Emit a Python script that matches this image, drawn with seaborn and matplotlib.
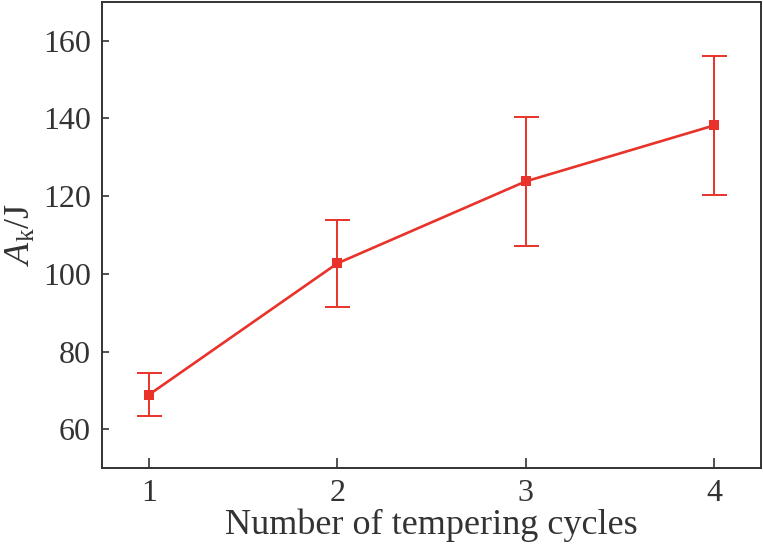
import matplotlib
matplotlib.use("Agg")
import matplotlib.pyplot as plt
import seaborn as sns
import pandas as pd

# values
cycles = [1, 2, 3, 4]
ak_mean = [68.9, 102.7, 123.8, 138.2]
ak_err = [5.6, 11.2, 16.6, 18.0]

RED = "#e8322a"
df = pd.DataFrame({"cycles": cycles, "ak": ak_mean, "err": ak_err})

sns.set_style("ticks")
plt.rcParams["font.family"] = ["Liberation Serif", "DejaVu Serif"]
plt.rcParams["mathtext.fontset"] = "custom"
plt.rcParams["mathtext.rm"] = "Liberation Serif"
plt.rcParams["mathtext.it"] = "Liberation Serif:italic"

fig = plt.figure(figsize=(7.63, 5.47), dpi=100)
ax = fig.add_axes([0.1337, 0.1444, 0.8637, 0.852])

ax.errorbar(df["cycles"], df["ak"], yerr=df["err"], fmt="none",
            ecolor=RED, elinewidth=1.4, capsize=9, capthick=1.4, zorder=2)
sns.lineplot(data=df, x="cycles", y="ak", ax=ax, color=RED, linewidth=1.9,
             marker="s", markersize=7.5, markeredgewidth=0, zorder=3)

ax.set_xlim(0.75, 4.25)
ax.set_ylim(50, 170)
ax.set_xticks(cycles)
ax.set_yticks([60, 80, 100, 120, 140, 160])
ax.tick_params(direction="in", labelsize=23, color="#333333", labelcolor="#333333",
               width=1.2)
ax.tick_params(axis="x", length=7, pad=8)
ax.tick_params(axis="y", length=5, pad=8)
for s in ax.spines.values():
    s.set_color("#333333")
    s.set_linewidth(1.4)

ax.set_xlabel("Number of tempering cycles", fontsize=26, color="#333333", labelpad=0)
ax.set_ylabel(r"$\mathit{A}_{\mathrm{k}}$/J", fontsize=26, color="#333333", labelpad=4)

fig.savefig("out.png", dpi=100)
